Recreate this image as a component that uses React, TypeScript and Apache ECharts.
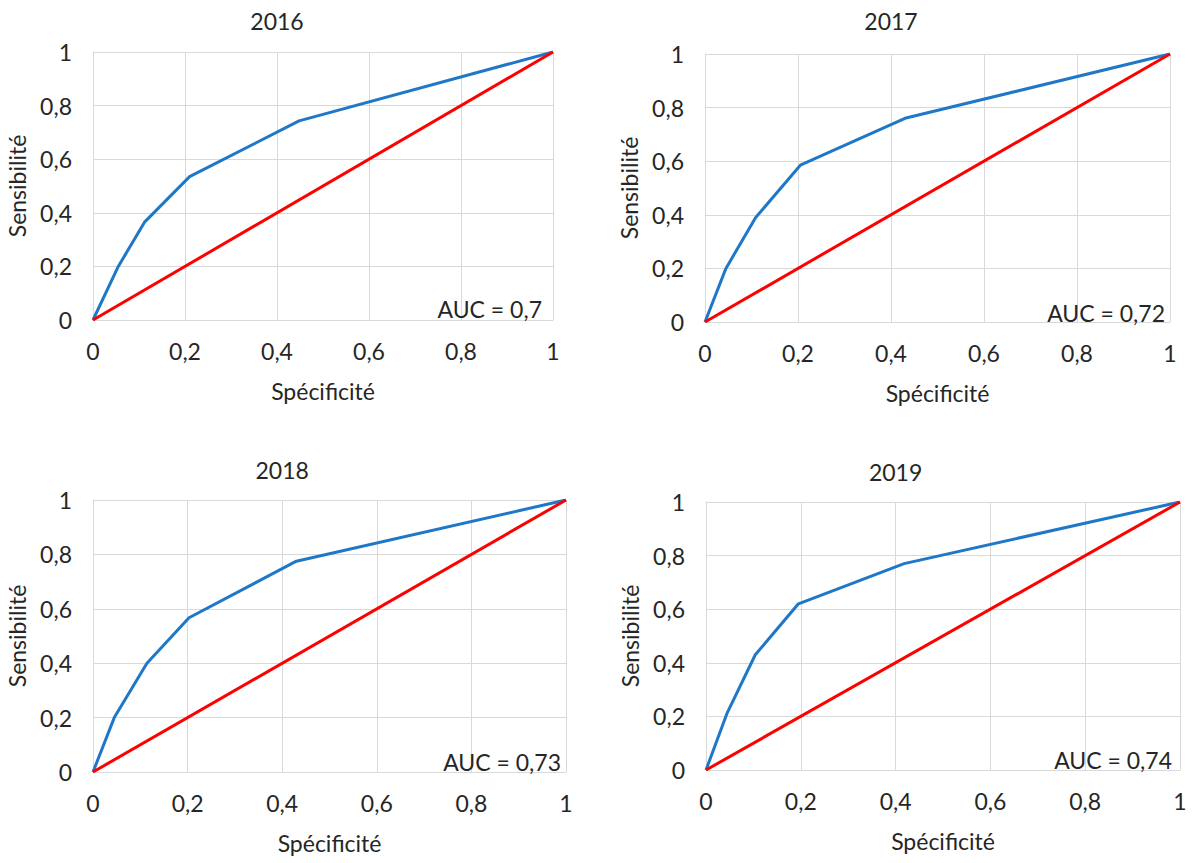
import React, { useEffect, useRef } from "react";
import * as echarts from "echarts";

// ---- data ----
const panelTitles = ["2016", "2017", "2018", "2019"];
const aucLabels = ["AUC = 0,7", "AUC = 0,72", "AUC = 0,73", "AUC = 0,74"];
const roc2016 = [[0, 0], [0.055, 0.2], [0.112, 0.365], [0.21, 0.535], [0.448, 0.743], [1, 1]];
const roc2017 = [[0, 0], [0.045, 0.2], [0.109, 0.39], [0.205, 0.585], [0.43, 0.76], [1, 1]];
const roc2018 = [[0, 0], [0.045, 0.2], [0.114, 0.4], [0.203, 0.567], [0.43, 0.775], [1, 1]];
const roc2019 = [[0, 0], [0.044, 0.21], [0.104, 0.43], [0.195, 0.62], [0.418, 0.77], [1, 1]];
const rocCurves = [roc2016, roc2017, roc2018, roc2019];
const diagonal = [[0, 0], [1, 1]];
const xAxisName = "Spécificité";
const yAxisName = "Sensibilité";

// ---- layout ----
const grids = [
  { left: 93, top: 52, width: 460, height: 268 },
  { left: 705, top: 54, width: 465, height: 268 },
  { left: 93, top: 500, width: 473, height: 272 },
  { left: 706, top: 502, width: 474, height: 268 },
];
const titleY = [21, 21, 470, 472];
const aucRightPad = [11, 5, 5, 8];
const aucBottomPad = [11, 9, 10, 10];

const FONT = "Lato, 'Open Sans', sans-serif";
const TEXT = "#262626";
const GRIDC = "#d9d9d9";
const FS = 23;

const fmt = (v: number) => String(+v.toFixed(1)).replace(".", ",");

export default function App() {
  const ref = useRef<HTMLDivElement>(null);
  useEffect(() => {
    if (!ref.current) return;
    const chart = echarts.init(ref.current, undefined, { renderer: "svg" });
    const axisCommon = {
      type: "value" as const,
      min: 0,
      max: 1,
      interval: 0.2,
      axisLine: { show: true, lineStyle: { color: GRIDC, width: 1 } },
      axisTick: { show: false },
      splitLine: { show: true, lineStyle: { color: GRIDC, width: 1 } },
      nameTextStyle: { fontFamily: FONT, fontSize: FS, color: TEXT },
      nameLocation: "middle" as const,
    };
    const xAxes = grids.map((_, i) => ({
      ...axisCommon,
      gridIndex: i,
      name: xAxisName,
      nameGap: 59,
      axisLabel: { formatter: fmt, fontFamily: FONT, fontSize: FS, color: TEXT, margin: 19 },
    }));
    const yAxes = grids.map((_, i) => ({
      ...axisCommon,
      gridIndex: i,
      name: yAxisName,
      nameGap: 65,
      axisLabel: { formatter: fmt, fontFamily: FONT, fontSize: FS, color: TEXT, margin: 21 },
    }));
    const series: any[] = [];
    rocCurves.forEach((curve, i) => {
      series.push({
        type: "line",
        xAxisIndex: i,
        yAxisIndex: i,
        data: curve,
        showSymbol: false,
        lineStyle: { color: "#1f77c8", width: 3 },
        z: 3,
      });
      series.push({
        type: "line",
        xAxisIndex: i,
        yAxisIndex: i,
        data: diagonal,
        showSymbol: false,
        lineStyle: { color: "#ff0000", width: 3 },
        z: 4,
      });
    });
    const graphic: any[] = [];
    grids.forEach((g, i) => {
      const ticks04 = g.left + g.width * 0.4;
      graphic.push({
        type: "text",
        x: ticks04,
        y: titleY[i],
        style: {
          text: panelTitles[i],
          fontFamily: FONT,
          fontSize: FS,
          fill: TEXT,
          align: "center",
          verticalAlign: "middle",
        },
      });
      graphic.push({
        type: "text",
        x: g.left + g.width - aucRightPad[i],
        y: g.top + g.height - aucBottomPad[i],
        z: 10,
        style: {
          text: aucLabels[i],
          fontFamily: FONT,
          fontSize: FS,
          fill: TEXT,
          align: "right",
          verticalAlign: "middle",
        },
      });
    });
    chart.setOption({
      animation: false,
      backgroundColor: "#ffffff",
      grid: grids.map((g) => ({ ...g, containLabel: false })),
      xAxis: xAxes,
      yAxis: yAxes,
      series,
      graphic,
    });
    return () => chart.dispose();
  }, []);
  return (
    <div
      ref={ref}
      style={{ position: "fixed", left: 0, top: 0, width: 1193, height: 863, background: "#fff" }}
    />
  );
}
